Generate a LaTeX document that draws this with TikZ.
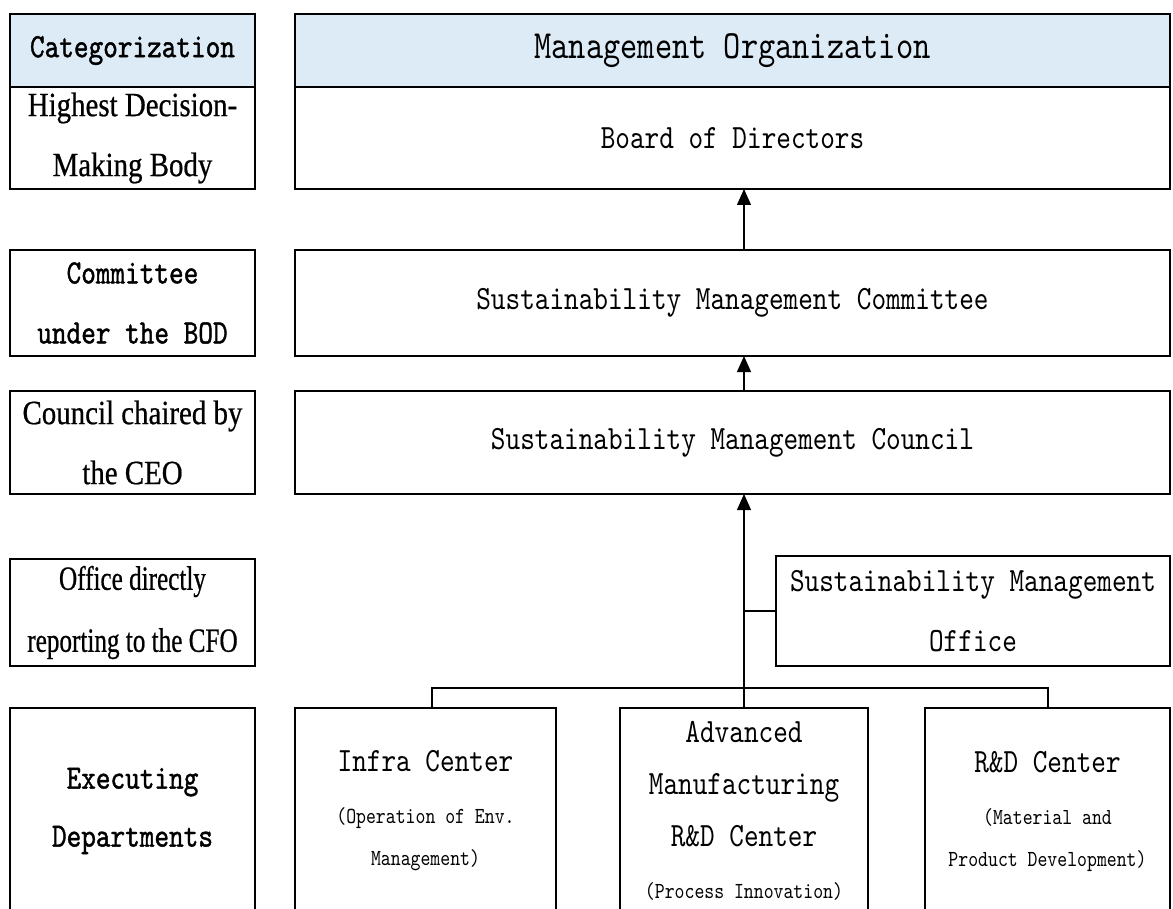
\documentclass[tikz,border=0pt]{standalone}
\usepackage{fontspec}
\setmainfont{lmmono10-regular}[Extension=.otf, FakeStretch=0.82]
\newfontfamily\heavymono{lmmono10-regular}[Extension=.otf, FakeStretch=0.82, FakeBold=1.2]
\newfontfamily\narrowfont{Liberation Serif}[FakeStretch=0.85, FakeBold=0.6]
\newfontfamily\narrowerfont{Liberation Serif}[FakeStretch=0.74, FakeBold=0.6]
\usetikzlibrary{positioning,calc,arrows.meta}
\definecolor{headblue}{RGB}{221,235,247}
\newcommand{\subtext}[1]{{\fontsize{11.5}{20}\selectfont #1}}

\tikzset{
	box/.style={draw, line width=1.2pt, align=center, inner sep=0pt, outer sep=0pt, font=\fontsize{17}{30}\selectfont},
	catbox/.style={box, minimum width=122.5pt},
	orgbox/.style={box, minimum width=437.5pt},
	headbox/.style={fill=headblue, minimum height=36.5pt},
	up/.style={-{Triangle[length=8pt,width=7pt]}, line width=0.6pt},
	link/.style={line width=1pt}
}

\begin{document}
\begin{tikzpicture}[x=0.5pt,y=-0.5pt]
	\useasboundingbox (0,0) rectangle (1173,909);
	\clip (0,0) rectangle (1173,909);
	\fill[white] (0,0) rectangle (1173,909);
	% left column
	\node[catbox, headbox, font=\heavymono\fontsize{17}{30}\selectfont] (catHead) at (132.5,50.5) {Categorization};
	\node[catbox, minimum height=51pt, font=\narrowfont\fontsize{17}{30}\selectfont] (catHigh) [below=0pt of catHead] {Highest Decision-\\Making Body};
	\node[catbox, minimum height=53pt, font=\heavymono\fontsize{17}{30}\selectfont] (catCom) [below=30.5pt of catHigh] {Committee\\under the BOD};
	\node[catbox, minimum height=51.5pt, font=\narrowfont\fontsize{17}{30}\selectfont] (catCoun) [below=17.5pt of catCom] {Council chaired by\\the CEO};
	\node[catbox, minimum height=53.5pt, font=\narrowerfont\fontsize{17}{31}\selectfont] (catOff) [below=32.5pt of catCoun] {Office directly\\reporting to the CFO};
	\node[catbox, minimum height=103pt, font=\heavymono\fontsize{17}{29}\selectfont] (catExec) [below=21pt of catOff] {Executing\\Departments};
	% management organization
	\node[orgbox, headbox, font=\fontsize{20}{24}\selectfont] (orgHead) [right=20pt of catHead] {Management Organization};
	\node[orgbox, minimum height=51pt] (board) [right=20pt of catHigh] {Board of Directors};
	\node[orgbox, minimum height=53pt] (committee) [right=20pt of catCom] {Sustainability Management Committee};
	\node[orgbox, minimum height=51.5pt] (council) [right=20pt of catCoun] {Sustainability Management Council};
	\node[box, minimum width=197pt, minimum height=55pt] (smo) at (973,611) {Sustainability Management\\Office};
	\node[box, minimum width=130.5pt, minimum height=103pt, font=\fontsize{17}{26}\selectfont] (infra) [right=20pt of catExec] {Infra Center\\\subtext{(Operation of Env.}\\[-5pt]\subtext{Management)}};
	\node[box, minimum width=124pt, minimum height=103pt, font=\fontsize{17}{26}\selectfont] (adv) [right=32pt of infra] {Advanced\\Manufacturing\\R\&D Center\\\subtext{(Process Innovation)}};
	\node[box, minimum width=122.5pt, minimum height=103pt, font=\fontsize{17}{26}\selectfont] (rnd) [right=28.5pt of adv] {R\&D Center\\\subtext{(Material and}\\[-5pt]\subtext{Product Development)}};
	% reporting lines
	\draw[up] (adv.north) -- (adv.north |- council.south);
	\draw[up] (adv.north |- council.north) -- (adv.north |- committee.south);
	\draw[up] (adv.north |- committee.north) -- (adv.north |- board.south);
	\draw[link] (smo.west) -- (smo.west -| adv.north);
	\draw[link] ($(infra.north)+(6.5,0)$) -- ++(0,-20) -| (rnd.north);
\end{tikzpicture}
\end{document}
